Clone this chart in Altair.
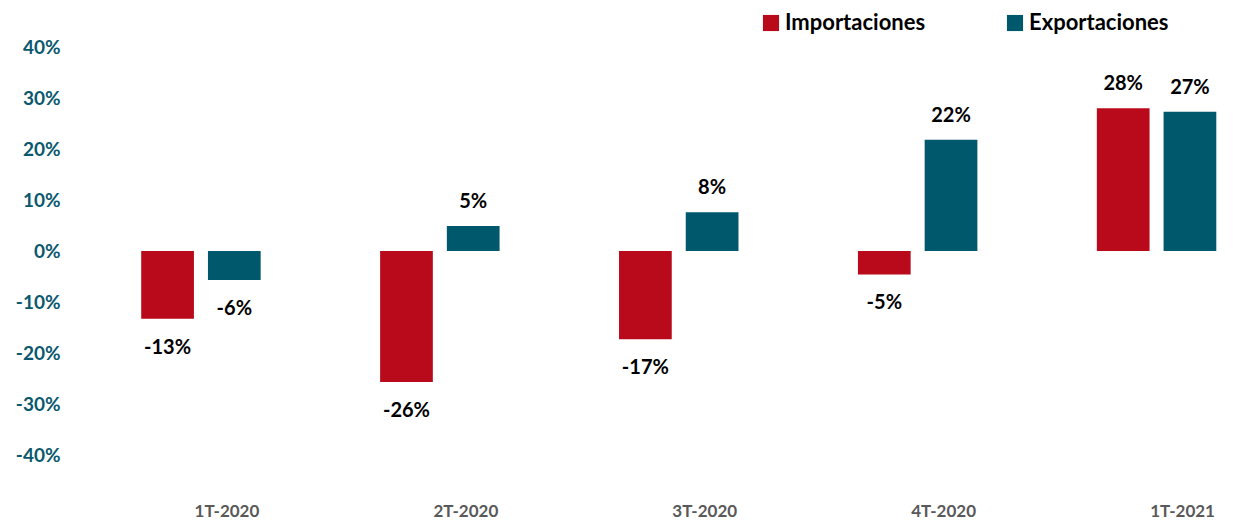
import altair as alt
import pandas as pd

quarters = ["1T-2020", "2T-2020", "3T-2020", "4T-2020", "1T-2021"]
series = ["Importaciones", "Exportaciones"]
importaciones = [-13.3, -25.7, -17.3, -4.6, 28.0]
exportaciones = [-5.7, 4.9, 7.6, 21.8, 27.3]
colors = ["#B80A1A", "#00586D"]
y_ticks = [-40, -30, -20, -10, 0, 10, 20, 30, 40]

rows = []
for q, v in zip(quarters, importaciones):
    rows.append({"q": q, "s": series[0], "v": v})
for q, v in zip(quarters, exportaciones):
    rows.append({"q": q, "s": series[1], "v": v})
df = pd.DataFrame(rows)
df["label"] = df["v"].round(0).astype(int).astype(str) + "%"

FONT = "Lato"

x_enc = alt.X("q:N", sort=quarters,
              scale=alt.Scale(paddingInner=0.5, paddingOuter=0.184, align=0.81),
              axis=alt.Axis(title=None, labelAngle=0, domain=False, ticks=False,
                            labelFont=FONT, labelFontSize=17, labelFontWeight="bold",
                            labelColor="#595959", labelOffset=26, labelPadding=-3))
y_enc = alt.Y("v:Q", scale=alt.Scale(domain=[-50, 40], nice=False, zero=True),
              axis=alt.Axis(title=None, values=y_ticks, grid=False, domain=False, ticks=False,
                            labelExpr="datum.value + '%'", labelFont=FONT, labelFontSize=19,
                            labelFontWeight="bold", labelColor="#0A586D", labelPadding=10))
xo = alt.XOffset("s:N", sort=series, scale=alt.Scale(paddingInner=0.21))

base = alt.Chart(df)

shadows = []
for sw, op in [(9, 0.04), (6, 0.06), (3, 0.08)]:
    shadows.append(base.mark_bar(color="#000000", opacity=0.0, stroke="#000000",
                                 strokeWidth=sw, strokeOpacity=op, yOffset=3).encode(
        x=x_enc, y=y_enc, y2=alt.datum(0), xOffset=xo))

bars = base.mark_bar().encode(
    x=x_enc, y=y_enc, y2=alt.datum(0), xOffset=xo,
    color=alt.Color("s:N", sort=series,
                    scale=alt.Scale(domain=series, range=colors),
                    legend=alt.Legend(title=None, orient="none", legendX=690, legendY=-35,
                                      direction="horizontal", symbolType="square",
                                      symbolSize=260, symbolStrokeWidth=0, symbolOpacity=1,
                                      labelFont=FONT, labelFontSize=22, labelFontWeight="bold",
                                      labelColor="#000000", columnPadding=78, labelOffset=3)))

labels_pos = base.transform_filter("datum.v >= 0").mark_text(
    font=FONT, fontSize=20, fontWeight="bold", color="#000000", dy=-24, baseline="middle").encode(
    x=x_enc, y=y_enc, xOffset=xo, text="label:N")
labels_neg = base.transform_filter("datum.v < 0").mark_text(
    font=FONT, fontSize=20, fontWeight="bold", color="#000000", dy=29, baseline="middle").encode(
    x=x_enc, y=y_enc, xOffset=xo, text="label:N")

chart = alt.layer(*shadows, bars, labels_pos, labels_neg).properties(
    width=1163, height=459,
    autosize=alt.AutoSizeParams(type="none"),
    padding={"left": 62, "top": 39, "right": 0, "bottom": 14},
).configure_view(stroke=None)

chart.save("out.html", embed_options={"renderer": "svg", "actions": False})
